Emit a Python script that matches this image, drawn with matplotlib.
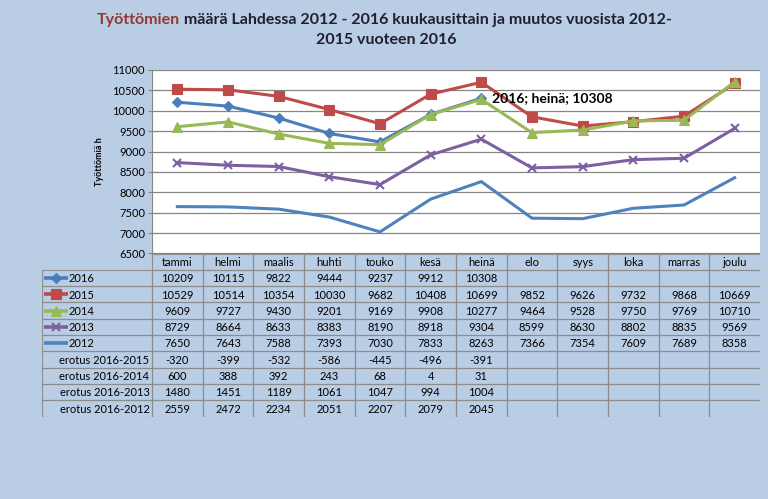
"""
Työttömien määrä Lahdessa 2012-2016 kuukausittain, line chart with data table.
"""

import numpy as np
import matplotlib
matplotlib.use("Agg")
import matplotlib.pyplot as plt
from matplotlib.patches import Rectangle

nan = np.nan

months = ["tammi", "helmi", "maalis", "huhti", "touko", "kesä", "heinä",
          "elo", "syys", "loka", "marras", "joulu"]

y2016 = [10209, 10115, 9822, 9444, 9237, 9912, 10308, nan, nan, nan, nan, nan]
y2015 = [10529, 10514, 10354, 10030, 9682, 10408, 10699, 9852, 9626, 9732, 9868, 10669]
y2014 = [9609, 9727, 9430, 9201, 9169, 9908, 10277, 9464, 9528, 9750, 9769, 10710]
y2013 = [8729, 8664, 8633, 8383, 8190, 8918, 9304, 8599, 8630, 8802, 8835, 9569]
y2012 = [7650, 7643, 7588, 7393, 7030, 7833, 8263, 7366, 7354, 7609, 7689, 8358]

d2015 = [-320, -399, -532, -586, -445, -496, -391]
d2014 = [600, 388, 392, 243, 68, 4, 31]
d2013 = [1480, 1451, 1189, 1061, 1047, 994, 1004]
d2012 = [2559, 2472, 2234, 2051, 2207, 2079, 2045]

series = [
    ("2016", y2016, "#4A7EBB", "D", 5),
    ("2015", y2015, "#BE4B48", "s", 6.5),
    ("2014", y2014, "#98B954", "^", 6.5),
    ("2013", y2013, "#7D60A0", "x", 6),
    ("2012", y2012, "#4F81BD", None, 0),
]
diffs = [
    ("erotus 2016-2015", d2015),
    ("erotus 2016-2014", d2014),
    ("erotus 2016-2013", d2013),
    ("erotus 2016-2012", d2012),
]

plt.rcParams["font.family"] = ["Lato", "DejaVu Sans"]
bg = "#B9CDE5"
W, H = 768, 499

fig = plt.figure(figsize=(W / 100, H / 100), dpi=100, facecolor=bg)

# main plot area (pixel layout from the reference)
left, right, top, bottom = 152, 760, 70, 253.5
ax = fig.add_axes([left / W, 1 - bottom / H, (right - left) / W, (bottom - top) / H])
ax.set_facecolor("white")
x = np.arange(len(months))
for name, vals, col, mk, ms in series:
    ax.plot(x, vals, color=col, lw=2.2, marker=mk, ms=ms, mew=1.5 if mk == "x" else 0.8,
            solid_joinstyle="round")
ax.set_xlim(-0.5, len(months) - 0.5)
ax.set_ylim(6500, 11000)
ax.set_yticks(np.arange(6500, 11001, 500))
ax.tick_params(axis="y", labelsize=8, length=3, color="#868686", pad=2)
ax.set_xticks([])
ax.grid(axis="y", color="#868686", lw=0.9)
ax.set_axisbelow(True)
for s in ["top", "right", "bottom"]:
    ax.spines[s].set_visible(False)
ax.spines["left"].set_color("#868686")
ax.set_ylabel("Työttömiä h", fontsize=6.5, fontweight="bold", labelpad=6)

ax.annotate("2016; heinä; 10308", xy=(6, y2016[6]), xytext=(8, 0),
            textcoords="offset points", ha="left", va="center",
            fontsize=10, fontweight="bold")

# data table below the plot
tleft, row_h = 42, 16.3
col_w = (right - left) / len(months)
n_rows = 1 + len(series) + len(diffs)
tab = fig.add_axes([tleft / W, 1 - (bottom + n_rows * row_h) / H,
                    (right - tleft) / W, n_rows * row_h / H])
lab_w = (left - tleft) / col_w
tab.set_xlim(-0.5 - lab_w, len(months) - 0.5)
tab.set_ylim(n_rows, 0)
tab.axis("off")
edge = "#8C8C8C"
fs = 8

for j, m in enumerate(months):
    tab.add_patch(Rectangle((j - 0.5, 0), 1, 1, fc="none", ec=edge, lw=0.8))
    tab.text(j, 0.55, m, ha="center", va="center", fontsize=fs)

rows = [(name, vals) for name, vals, *_ in series] + diffs
for i, (name, vals) in enumerate(rows):
    r = i + 1
    tab.add_patch(Rectangle((-0.5 - lab_w, r), lab_w, 1, fc="none", ec=edge, lw=0.8))
    for j in range(len(months)):
        tab.add_patch(Rectangle((j - 0.5, r), 1, 1, fc="none", ec=edge, lw=0.8))
        if j < len(vals) and not np.isnan(vals[j]):
            tab.text(j, r + 0.55, f"{vals[j]:.0f}", ha="center", va="center", fontsize=fs)
    if i < len(series):
        _, _, col, mk, ms = series[i]
        x0 = -0.5 - lab_w + 0.03
        tab.plot([x0, x0 + 0.48], [r + 0.5, r + 0.5], color=col, lw=2.6,
                 solid_capstyle="butt", clip_on=False)
        if mk:
            tab.plot([x0 + 0.24], [r + 0.5], color=col, marker=mk, ms=ms,
                     mew=1.5 if mk == "x" else 0.8, clip_on=False)
        tab.text(x0 + 0.5, r + 0.55, name, ha="left", va="center", fontsize=fs)
    else:
        tab.text(-0.55, r + 0.55, name, ha="right", va="center", fontsize=fs)

# title, first word in red, line centred around x=384 px
tsize = 11.5
dark = "#1F1F2E"
t1 = fig.text(0, 1 - 27 / H, "Työttömien", color="#953735",
              fontsize=tsize, fontweight="bold", ha="left", va="bottom")
t2 = fig.text(0, 1 - 27 / H, " määrä Lahdessa 2012 - 2016 kuukausittain ja muutos vuosista 2012-",
              color=dark, fontsize=tsize, fontweight="bold", ha="left", va="bottom")
fig.canvas.draw()
w1 = t1.get_window_extent().width
w2 = t2.get_window_extent().width
x_start = 384 - (w1 + w2) / 2
t1.set_x(x_start / W)
t2.set_x((x_start + w1) / W)
fig.text(386 / W, 1 - 40 / H, "2015 vuoteen 2016", color=dark,
         fontsize=tsize, fontweight="bold", ha="center", va="center")

fig.savefig("out.png", dpi=100, facecolor=bg)
